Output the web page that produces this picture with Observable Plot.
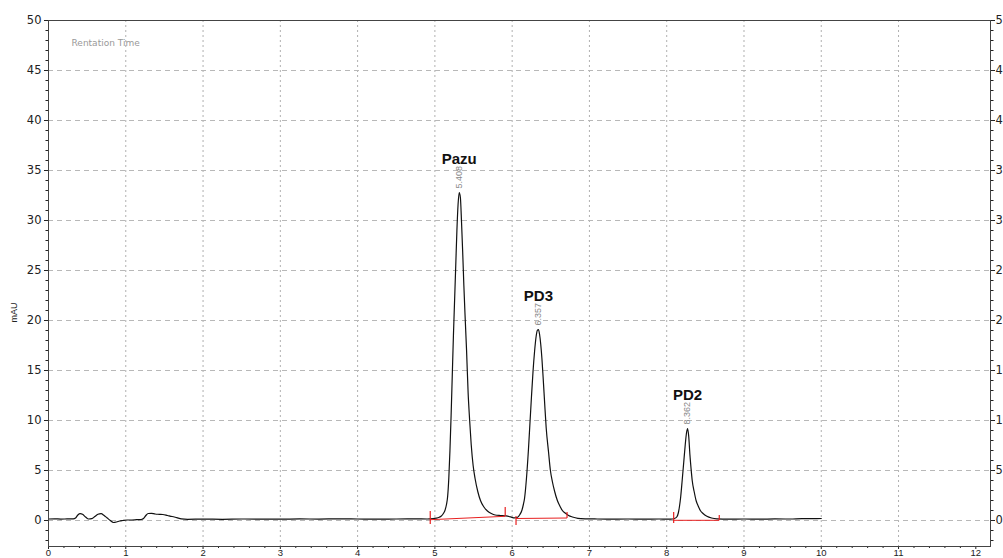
<!DOCTYPE html>
<html><head><meta charset="utf-8">
<script src="https://cdn.jsdelivr.net/npm/d3@7"></script>
<script src="https://cdn.jsdelivr.net/npm/@observablehq/plot@0.6"></script>
<style>html,body{margin:0;padding:0;background:#fff;overflow:hidden;}</style>
</head><body><div id="chart"></div>
<script>
// Chromatogram trace (retention time in min, signal in mAU)
const traceTime = [
  0.00,0.08,0.16,0.24,0.32,0.35,0.38,0.41,0.44,0.48,0.52,0.56,0.60,0.64,0.68,0.72,0.76,0.80,0.84,0.88,0.92,0.96,
  1.02,1.08,1.14,1.20,1.23,1.26,1.29,1.33,1.38,1.43,1.48,1.54,1.60,1.66,1.72,1.80,
  2.00,2.25,2.50,2.75,3.00,3.25,3.50,3.75,4.00,4.25,4.50,4.75,4.90,4.98,5.04,5.08,5.11,5.13,5.15,5.165,5.18,5.195,
  5.21,5.225,5.24,5.255,5.27,5.285,5.30,5.315,5.33,5.345,5.36,5.375,5.39,5.41,5.43,5.45,5.47,5.495,5.52,5.555,
  5.59,5.63,5.68,5.73,5.78,5.85,5.92,5.98,6.03,6.07,6.10,6.125,6.145,6.16,6.185,6.21,6.23,6.25,6.27,6.29,6.31,
  6.325,6.34,6.355,6.37,6.385,6.40,6.42,6.44,6.47,6.495,6.52,6.55,6.585,6.62,6.65,6.69,6.73,6.78,6.85,6.95,
  7.10,7.30,7.50,7.70,7.90,8.05,8.10,8.13,8.15,8.165,8.18,8.20,8.22,8.24,8.255,8.27,8.285,8.30,8.315,8.33,8.355,
  8.38,8.41,8.435,8.47,8.52,8.58,8.65,8.80,9.00,9.20,9.40,9.60,9.75,9.90,10.00
];
const traceMAU = [
  0.15,0.17,0.14,0.16,0.17,0.25,0.55,0.68,0.62,0.35,0.15,0.18,0.40,0.62,0.68,0.50,0.25,0.00,-0.20,-0.15,-0.05,0.00,
  0.05,0.05,0.08,0.10,0.20,0.50,0.70,0.72,0.65,0.62,0.60,0.50,0.40,0.28,0.16,0.12,
  0.14,0.12,0.15,0.14,0.13,0.16,0.14,0.17,0.15,0.13,0.15,0.16,0.15,0.20,0.28,0.42,0.70,1.00,1.60,2.40,4.20,7.00,
  10.5,14.5,18.5,22.0,25.5,29.0,31.6,32.8,32.3,29.8,26.8,23.5,20.6,17.0,12.8,10.0,7.6,5.5,4.2,2.9,
  2.0,1.4,0.95,0.70,0.55,0.50,0.46,0.36,0.26,0.33,0.60,1.00,1.60,2.20,4.20,7.00,9.70,12.4,14.9,16.9,18.4,
  19.0,19.1,18.6,17.6,16.2,14.4,11.8,9.3,6.9,5.0,3.9,2.9,2.0,1.4,1.0,0.72,0.50,0.35,0.22,0.17,
  0.15,0.14,0.15,0.13,0.15,0.14,0.20,0.35,0.75,1.40,2.30,4.00,5.80,7.60,8.70,9.20,8.40,6.60,5.20,4.00,2.90,
  2.00,1.40,1.00,0.70,0.42,0.25,0.17,0.14,0.15,0.13,0.16,0.15,0.19,0.18,0.20
];

// Identified peaks
const peakNames = ["Pazu", "PD3", "PD2"];
const peakRT = ["5.408", "6.357", "8.362"];
const peakApexTime = [5.315, 6.34, 8.27];
const peakApexMAU = [32.8, 19.1, 9.2];

// Integration baselines (red)
const baseStartTime = [4.94, 6.05, 8.09];
const baseStartMAU = [0.08, 0.20, 0.02];
const baseEndTime = [5.91, 6.71, 8.68];
const baseEndMAU = [0.42, 0.25, 0.02];

// Integration boundary markers (red)
const markerTime = [4.94, 5.91, 6.05, 6.71, 8.09, 8.68];
const markerLow = [-0.4, 0.4, -0.5, 0.2, -0.3, 0.0];
const markerHigh = [0.9, 1.3, 0.4, 0.8, 0.8, 0.5];

// Axis ticks
const xMajor = [0,1,2,3,4,5,6,7,8,9,10,11,12];
const xGrid = [1,2,3,4,5,6,7,8,9,10,11];
const yMajor = [0,5,10,15,20,25,30,35,40,45,50];
const yGrid = [0,5,10,15,20,25,30,35,40,45];

const xMinor = d3.range(0, 61).filter(i => i % 5 !== 0).map(i => i / 5);
const yMinor = d3.range(-2, 50).filter(v => v % 5 !== 0);

const traceData = traceTime.map((t, i) => ({t, v: traceMAU[i]}));
const peaks = peakNames.map((name, i) => ({name, rt: peakRT[i], t: peakApexTime[i], v: peakApexMAU[i]}));
const baselines = baseStartTime.map((t, i) => ({x1: t, y1: baseStartMAU[i], x2: baseEndTime[i], y2: baseEndMAU[i]}));
const markers = markerTime.map((t, i) => ({t, lo: markerLow[i], hi: markerHigh[i]}));

const axisFont = "'DejaVu Sans', Verdana, sans-serif";

const chart = Plot.plot({
  width: 1003,
  height: 558,
  marginLeft: 48,
  marginRight: 13,
  marginTop: 20,
  marginBottom: 12,
  x: {domain: [0, 12.19]},
  y: {domain: [-2.6, 50]},
  style: {fontFamily: "'Liberation Sans', Arial, sans-serif", background: "#fff", color: "#222"},
  marks: [
    Plot.gridX(xGrid, {stroke: "#b0b0b0", strokeOpacity: 1, strokeDasharray: "2,3"}),
    Plot.gridY(yGrid, {stroke: "#b8b8b8", strokeOpacity: 1, strokeDasharray: "5,4"}),
    Plot.line(traceData, {x: "t", y: "v", stroke: "#111", strokeWidth: 1.2, curve: "monotone-x"}),
    Plot.link(baselines, {x1: "x1", y1: "y1", x2: "x2", y2: "y2", stroke: "#e82020", strokeWidth: 1}),
    Plot.ruleX(markers, {x: "t", y1: "lo", y2: "hi", stroke: "#e82020", strokeWidth: 1.2}),
    Plot.text(peaks, {x: "t", y: "v", text: "rt", rotate: -90, textAnchor: "start", lineAnchor: "middle", dy: -4, fontSize: 9, fill: "#888"}),
    Plot.text(peaks, {x: "t", y: "v", text: "name", dy: -33, fontSize: 15, fontWeight: "bold", fill: "#111"}),
    Plot.text(["Rentation Time"], {frameAnchor: "top-left", dx: 23, dy: 23, textAnchor: "start", lineAnchor: "middle", fill: "#999", fontSize: 9, fontFamily: axisFont}),
    Plot.text(["mAU"], {frameAnchor: "left", dx: -34, dy: 39, rotate: -90, fontSize: 9, fill: "#222"}),
    Plot.axisX({ticks: xMajor, anchor: "bottom", tickSize: 3, tickPadding: 0, fontSize: 9.5, label: null}),
    Plot.axisX({ticks: xMinor, anchor: "bottom", tickSize: 2, tickFormat: () => "", label: null}),
    Plot.axisY({ticks: yMajor, anchor: "left", tickSize: 4, tickPadding: 3, fontSize: 11.5, fontFamily: axisFont, label: null}),
    Plot.axisY({ticks: yMinor, anchor: "left", tickSize: 2.5, tickFormat: () => "", label: null}),
    Plot.axisY({ticks: yMajor, anchor: "right", tickSize: 4, tickPadding: 1, fontSize: 11.5, fontFamily: axisFont, label: null}),
    Plot.axisY({ticks: yMinor, anchor: "right", tickSize: 2.5, tickFormat: () => "", label: null}),
    Plot.frame({stroke: "#444"})
  ]
});
document.getElementById("chart").appendChild(chart);
</script>
</body></html>
